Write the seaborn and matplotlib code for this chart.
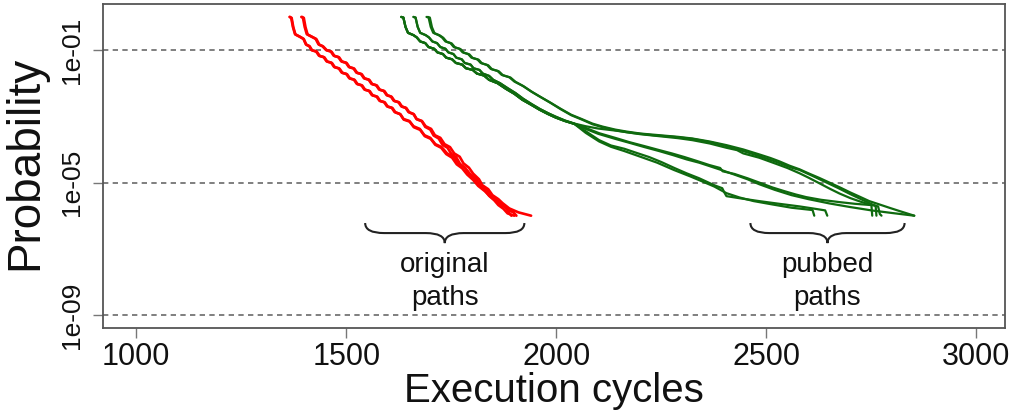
import matplotlib
matplotlib.use("Agg")
import numpy as np
import pandas as pd
import matplotlib.pyplot as plt
import seaborn as sns
from matplotlib.path import Path
from matplotlib.patches import PathPatch
from matplotlib.transforms import blended_transform_factory
from matplotlib.ticker import NullLocator

# ---------------- data (execution cycles, log10 of exceedance probability) ----------------
red_a_cycles = [1365,1369,1373,1378,1390,1398,1404,1412,1417,1428,1435,1446,1453,1464,1471,1482,1489,1500,1507,1518,
                1525,1536,1543,1554,1561,1572,1579,1590,1597,1608,1615,1628,1636,1650,1660,1675,1686,1700,1712,1727,
                1740,1755,1767,1782,1794,1810,1820,1834,1845,1858,1866,1880,1888,1893]
red_a_log10p = [0.0,-0.03,-0.30,-0.52,-0.60,-0.66,-0.83,-0.88,-1.00,-1.04,-1.17,-1.21,-1.34,-1.38,-1.51,-1.55,-1.68,-1.72,-1.85,-1.89,
                -2.02,-2.06,-2.19,-2.23,-2.36,-2.40,-2.53,-2.57,-2.70,-2.74,-2.87,-2.93,-3.08,-3.14,-3.30,-3.38,-3.57,-3.65,-3.84,-3.93,
                -4.12,-4.22,-4.42,-4.55,-4.73,-4.90,-5.08,-5.20,-5.38,-5.50,-5.66,-5.75,-5.92,-6.00]

red_b_cycles = [1366,1370,1374,1379,1391,1399,1405,1413,1419,1430,1437,1448,1455,1466,1473,1484,1491,1502,1509,1520,
                1527,1538,1545,1556,1563,1574,1581,1592,1599,1610,1617,1629,1637,1651,1661,1676,1687,1701,1712,1726,
                1738,1752,1763,1776,1788,1802,1814,1830,1842,1856,1870,1884,1898,1905]
red_b_log10p = [0.0,-0.03,-0.31,-0.53,-0.61,-0.67,-0.84,-0.89,-1.01,-1.05,-1.18,-1.22,-1.35,-1.39,-1.52,-1.56,-1.69,-1.73,-1.86,-1.90,
                -2.03,-2.07,-2.20,-2.24,-2.37,-2.41,-2.54,-2.58,-2.71,-2.75,-2.88,-2.94,-3.10,-3.16,-3.33,-3.41,-3.60,-3.68,-3.86,-3.95,
                -4.14,-4.25,-4.45,-4.57,-4.76,-4.92,-5.10,-5.26,-5.41,-5.56,-5.64,-5.82,-5.90,-6.00]

red_c_cycles = [1393,1397,1401,1406,1418,1427,1434,1443,1452,1463,1470,1481,1488,1499,1506,1517,1524,1535,1542,1553,
                1560,1571,1578,1589,1596,1606,1613,1624,1631,1641,1648,1660,1667,1680,1689,1702,1711,1724,1734,1747,
                1757,1770,1779,1792,1802,1816,1824,1838,1848,1862,1872,1888,1910,1940]
red_c_log10p = [0.0,-0.03,-0.30,-0.52,-0.60,-0.66,-0.83,-0.88,-1.00,-1.04,-1.17,-1.21,-1.34,-1.38,-1.51,-1.55,-1.68,-1.72,-1.85,-1.89,
                -2.02,-2.06,-2.19,-2.23,-2.36,-2.40,-2.53,-2.57,-2.70,-2.74,-2.87,-2.93,-3.08,-3.14,-3.30,-3.38,-3.57,-3.65,-3.84,-3.93,
                -4.12,-4.22,-4.42,-4.55,-4.73,-4.90,-5.08,-5.20,-5.38,-5.50,-5.62,-5.78,-5.90,-6.00]

red_d_cycles = [1395,1399,1403,1408,1420,1429,1436,1445,1454,1465,1472,1483,1490,1501,1508,1519,1526,1537,1544,1555,
                1562,1573,1580,1591,1598,1608,1615,1626,1633,1643,1650,1661,1668,1680,1688,1700,1708,1720,1729,1741,
                1750,1762,1771,1783,1793,1806,1816,1830,1840,1852,1862,1874,1884,1900]
red_d_log10p = [0.0,-0.03,-0.31,-0.53,-0.61,-0.67,-0.84,-0.89,-1.01,-1.05,-1.18,-1.22,-1.35,-1.39,-1.52,-1.56,-1.69,-1.73,-1.86,-1.90,
                -2.03,-2.07,-2.20,-2.24,-2.37,-2.41,-2.54,-2.58,-2.71,-2.75,-2.88,-2.94,-3.09,-3.15,-3.32,-3.40,-3.58,-3.67,-3.86,-3.95,
                -4.13,-4.24,-4.44,-4.56,-4.75,-4.91,-5.09,-5.24,-5.40,-5.53,-5.68,-5.79,-5.93,-6.00]

# pubbed paths: shared head sections and individual tails
green_top_a_cycles = [1631,1636,1641,1647,1660,1668,1676,1688,1696,1709,1717,1730,1738,1752,1761,1776,1785,1801,1811,1828,
                      1840,1860,1880,1900,1919,1940,1960,1980,1999,2020,2043]
green_top_a_log10p = [0.0,-0.02,-0.30,-0.48,-0.55,-0.62,-0.74,-0.79,-0.91,-0.96,-1.07,-1.12,-1.23,-1.28,-1.39,-1.44,-1.55,-1.60,-1.71,-1.77,
                      -1.90,-2.00,-2.17,-2.32,-2.50,-2.65,-2.80,-2.93,-3.04,-3.14,-3.23]
green_top_b_cycles = [1660,1665,1670,1676,1689,1697,1705,1716,1724,1736,1743,1755,1762,1775,1782,1796,1803,1817,1825,1840,
                      1850,1866,1884,1903,1921,1941,1961,1981,2000,2021,2043]
green_top_b_log10p = [0.0,-0.02,-0.30,-0.48,-0.55,-0.62,-0.74,-0.79,-0.91,-0.96,-1.07,-1.12,-1.23,-1.28,-1.39,-1.44,-1.55,-1.60,-1.71,-1.78,
                      -1.90,-2.00,-2.15,-2.30,-2.47,-2.63,-2.78,-2.91,-3.02,-3.13,-3.22]
green_top_c_cycles = [1691,1696,1701,1707,1720,1728,1736,1748,1756,1769,1777,1790,1798,1812,1820,1835,1844,1860,1870,1888,
                      1900,1920,1940,1960,1985,2010,2035,2060,2086]
green_top_c_log10p = [0.0,-0.02,-0.30,-0.48,-0.55,-0.62,-0.74,-0.79,-0.91,-0.96,-1.07,-1.12,-1.23,-1.28,-1.39,-1.45,-1.57,-1.63,-1.75,-1.82,
                      -1.95,-2.08,-2.25,-2.40,-2.58,-2.77,-2.95,-3.08,-3.22]
green_top_d_cycles = [1694,1699,1704,1710,1723,1731,1739,1751,1759,1772,1780,1793,1801,1815,1823,1838,1847,1863,1873,1891,
                      1903,1923,1943,1963,1987,2011,2036,2061,2086]
green_top_d_log10p = [0.0,-0.02,-0.31,-0.49,-0.56,-0.63,-0.75,-0.80,-0.92,-0.97,-1.08,-1.13,-1.24,-1.29,-1.40,-1.46,-1.58,-1.64,-1.76,-1.83,
                      -1.96,-2.10,-2.27,-2.42,-2.60,-2.79,-2.97,-3.10,-3.24]

green_tail_1_cycles = [2110,2140,2167,2200,2245,2290,2324,2365,2405,2445,2483,2510,2531,2555,2579,2600,2626,2650,2674,2700,
                       2721,2745,2769,2795,2817,2852]
green_tail_1_log10p = [-3.31,-3.40,-3.46,-3.52,-3.57,-3.62,-3.67,-3.76,-3.87,-4.00,-4.15,-4.26,-4.36,-4.49,-4.60,-4.72,-4.86,-5.00,-5.14,-5.30,
                       -5.42,-5.56,-5.66,-5.77,-5.86,-6.00]
green_tail_2_cycles = [2110,2140,2167,2200,2245,2290,2324,2365,2405,2430,2445,2483,2520,2550,2579,2600,2626,2650,2674,2700,
                       2725,2745,2766,2770,2774]
green_tail_2_log10p = [-3.33,-3.42,-3.48,-3.54,-3.60,-3.66,-3.72,-3.82,-3.95,-4.02,-4.12,-4.25,-4.42,-4.56,-4.72,-4.85,-5.02,-5.18,-5.33,-5.47,
                       -5.58,-5.66,-5.72,-5.95,-6.00]
green_tail_3_cycles = [2070,2100,2140,2180,2230,2280,2324,2370,2405,2440,2483,2520,2560,2579,2610,2640,2670,2700,2725,2752,2760,2762]
green_tail_3_log10p = [-3.30,-3.37,-3.43,-3.50,-3.57,-3.62,-3.68,-3.79,-3.90,-4.03,-4.20,-4.36,-4.55,-4.62,-4.80,-4.98,-5.16,-5.35,-5.50,-5.66,-5.70,-6.00]
green_tail_4_cycles = [2070,2102,2140,2174,2210,2245,2275,2305,2335,2364,2390,2396,2424,2455,2483,2515,2543,2570,2595,2630,
                       2674,2710,2750,2752]
green_tail_4_log10p = [-3.35,-3.51,-3.65,-3.78,-3.90,-4.02,-4.12,-4.23,-4.35,-4.47,-4.56,-4.66,-4.74,-4.87,-5.00,-5.15,-5.26,-5.36,-5.44,-5.52,
                       -5.59,-5.64,-5.68,-6.00]
green_tail_5_cycles = [2070,2100,2140,2174,2210,2245,2280,2310,2340,2364,2395,2424,2455,2483,2520,2560,2600,2650,2700,2750,2800,2852]
green_tail_5_log10p = [-3.38,-3.53,-3.68,-3.80,-3.93,-4.05,-4.18,-4.30,-4.40,-4.50,-4.63,-4.76,-4.90,-5.05,-5.22,-5.38,-5.50,-5.63,-5.74,-5.84,-5.92,-6.00]
green_tail_6_cycles = [2070,2102,2130,2162,2190,2221,2250,2281,2310,2340,2376,2395,2400,2405,2440,2483,2530,2579,2610,2640,2645]
green_tail_6_log10p = [-3.45,-3.72,-3.88,-3.98,-4.10,-4.23,-4.38,-4.56,-4.72,-4.87,-5.08,-5.17,-5.30,-5.41,-5.48,-5.56,-5.64,-5.72,-5.78,-5.84,-6.00]
green_tail_7_cycles = [2070,2102,2130,2162,2200,2240,2280,2320,2350,2376,2405,2436,2470,2514,2560,2610,2614]
green_tail_7_log10p = [-3.50,-3.76,-3.92,-4.05,-4.22,-4.40,-4.62,-4.82,-4.98,-5.12,-5.32,-5.45,-5.56,-5.66,-5.76,-5.83,-6.00]

ytick_values = [1e-1, 1e-5, 1e-9]
ytick_labels = ["1e-01", "1e-05", "1e-09"]
xtick_values = [1000, 1500, 2000, 2500, 3000]
brace_starts = [1545, 2462]
brace_ends = [1924, 2829]
brace_words = [("original", "paths"), ("pubbed", "paths")]

# ---------------- assemble long table ----------------
curves = [
    ("o1", "original", red_a_cycles, red_a_log10p),
    ("o2", "original", red_b_cycles, red_b_log10p),
    ("o3", "original", red_c_cycles, red_c_log10p),
    ("o4", "original", red_d_cycles, red_d_log10p),
    ("p1", "pubbed", green_top_c_cycles + green_tail_1_cycles, green_top_c_log10p + green_tail_1_log10p),
    ("p2", "pubbed", green_top_d_cycles + green_tail_2_cycles, green_top_d_log10p + green_tail_2_log10p),
    ("p3", "pubbed", green_top_b_cycles + green_tail_3_cycles, green_top_b_log10p + green_tail_3_log10p),
    ("p4", "pubbed", green_top_b_cycles + green_tail_4_cycles, green_top_b_log10p + green_tail_4_log10p),
    ("p5", "pubbed", green_top_a_cycles + green_tail_5_cycles, green_top_a_log10p + green_tail_5_log10p),
    ("p6", "pubbed", green_top_a_cycles + green_tail_6_cycles, green_top_a_log10p + green_tail_6_log10p),
    ("p7", "pubbed", green_top_a_cycles + green_tail_7_cycles, green_top_a_log10p + green_tail_7_log10p),
]
rows = []
for pid, grp, cyc, lp in curves:
    for c, l in zip(cyc, lp):
        rows.append({"path": pid, "group": grp, "cycles": c, "prob": 10.0 ** l})
df = pd.DataFrame(rows)

# ---------------- figure ----------------
sns.set_theme(style="white")
plt.rcParams["font.family"] = ["Liberation Sans", "DejaVu Sans"]

W, H = 1014, 413
fig = plt.figure(figsize=(W / 100, H / 100), dpi=100)
ax = fig.add_axes([103 / W, 1 - 328 / H, 902 / W, 324 / H])
ax.set_yscale("log")

for yv in ytick_values:
    ax.axhline(yv, color="#6a6a6a", lw=1.2, ls=(0, (3.2, 2.6)), zorder=1)

sns.lineplot(data=df[df.group == "original"], x="cycles", y="prob", units="path",
             estimator=None, sort=False, color="#ff0000", lw=1.9, ax=ax, legend=False, zorder=3)
sns.lineplot(data=df[df.group == "pubbed"], x="cycles", y="prob", units="path",
             estimator=None, sort=False, color="#0f6a0f", lw=1.6, ax=ax, legend=False, zorder=3)

ax.set_xlim(921, 3068)
ax.set_ylim(10 ** -9.39, 10 ** 0.39)
ax.set_xticks(xtick_values)
ax.set_xticklabels([str(v) for v in xtick_values], fontsize=22)
ax.set_yticks(ytick_values)
ax.set_yticklabels(ytick_labels, rotation=90, va="center", fontsize=19)
ax.yaxis.set_minor_locator(NullLocator())
ax.tick_params(axis="both", which="major", direction="out", length=7, width=1.0, color="#777777",
               left=True, bottom=True, labelcolor="#111111")
ax.tick_params(axis="y", pad=7)
ax.tick_params(axis="x", pad=3)

for sp in ax.spines.values():
    sp.set_color("#555555")
    sp.set_linewidth(1.3)
    sp.set_visible(True)

ax.set_xlabel("Execution cycles", fontsize=29, color="#111111")
ax.set_ylabel("Probability", fontsize=33, color="#111111")
ax.xaxis.set_label_coords(0.5, -0.135)
ax.yaxis.set_label_coords(-0.062, 0.51)

# curly braces with annotations
trans = blended_transform_factory(ax.transData, ax.transAxes)
y_top, y_mid, y_tip = 0.324, 0.293, 0.262
r = 45
for x0, x1, words in zip(brace_starts, brace_ends, brace_words):
    xm = (x0 + x1) / 2
    verts = [(x0, y_top), (x0, y_mid), (x0 + r, y_mid),
             (xm - r, y_mid),
             (xm, y_mid), (xm, y_tip),
             (xm, y_mid), (xm + r, y_mid),
             (x1 - r, y_mid),
             (x1, y_mid), (x1, y_top)]
    codes = [Path.MOVETO, Path.CURVE3, Path.CURVE3,
             Path.LINETO,
             Path.CURVE3, Path.CURVE3,
             Path.CURVE3, Path.CURVE3,
             Path.LINETO,
             Path.CURVE3, Path.CURVE3]
    ax.add_patch(PathPatch(Path(verts, codes), transform=trans, fill=False,
                           lw=1.5, color="#222222", clip_on=False, zorder=4))
    ax.text(xm, 0.173, words[0], transform=trans, ha="center", va="baseline",
            fontsize=20, color="#111111")
    ax.text(xm, 0.071, words[1], transform=trans, ha="center", va="baseline",
            fontsize=20, color="#111111")

fig.savefig("out.png", dpi=100)
